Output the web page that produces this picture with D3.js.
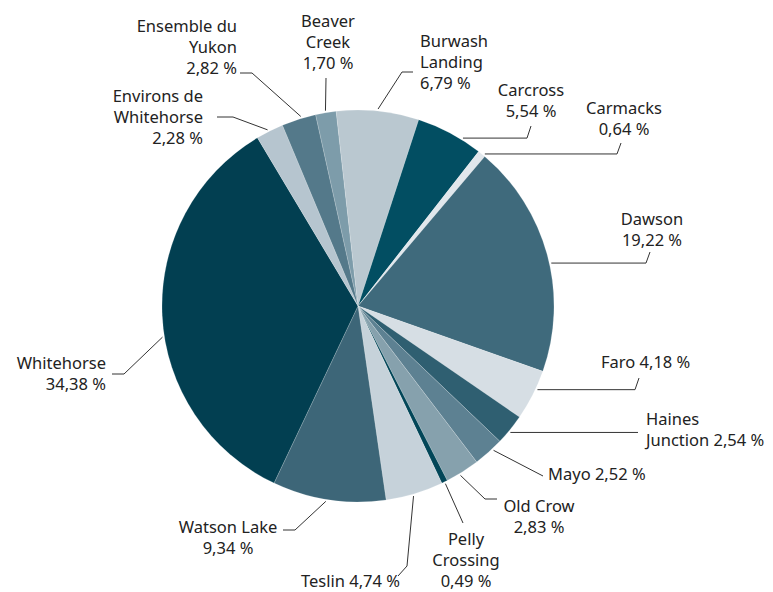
<!DOCTYPE html>
<html>
<head>
<meta charset="utf-8">
<script src="https://cdn.jsdelivr.net/npm/d3@7"></script>
<style>
  body { margin: 0; background: #fff; }
  text { font-family: "Noto Sans", "Open Sans", sans-serif; font-size: 16.5px; fill: #222; }
</style>
</head>
<body>
<svg id="chart" width="773" height="592"></svg>
<script>
// Data
const regions = ["Beaver Creek", "Burwash Landing", "Carcross", "Carmacks", "Dawson", "Faro",
  "Haines Junction", "Mayo", "Old Crow", "Pelly Crossing", "Teslin", "Watson Lake",
  "Whitehorse", "Environs de Whitehorse", "Ensemble du Yukon"]
const shares = [1.70, 6.79, 5.54, 0.64, 19.22, 4.18, 2.54, 2.52, 2.83, 0.49, 4.74, 9.34, 34.38, 2.28, 2.82]
const colors = ["#7d9caa", "#bac8d0", "#024e62", "#e1e7ec", "#3f6a7c", "#d6dee4", "#2f5f71", "#5d8192",
  "#86a1ad", "#024658", "#c6d2da", "#3d6678", "#023f51", "#b6c5cf", "#54798a"]
// how each label breaks into lines ({v} = the value)
const labelLines = [
  ["Beaver", "Creek", "{v}"], ["Burwash", "Landing", "{v}"], ["Carcross", "{v}"], ["Carmacks", "{v}"],
  ["Dawson", "{v}"], ["Faro {v}"], ["Haines", "Junction {v}"], ["Mayo {v}"], ["Old Crow", "{v}"],
  ["Pelly", "Crossing", "{v}"], ["Teslin {v}"], ["Watson Lake", "{v}"], ["Whitehorse", "{v}"],
  ["Environs de", "Whitehorse", "{v}"], ["Ensemble du", "Yukon", "{v}"]]

// Label layout (position of text, connector bends, nudge of the connector angle in degrees)
const labelLayout = [
  {x: 328, y: 27, anchor: "middle", nudge: 0, pts: [[326, 78]]},
  {x: 420, y: 47, anchor: "start", nudge: 0, pts: [[402, 72], [413, 72]]},
  {x: 531, y: 96, anchor: "middle", nudge: 4, hFirst: true, pts: [[527, 0], [531, 126]]},
  {x: 624, y: 114, anchor: "middle", nudge: 0.7, hFirst: true, pts: [[617, 0], [621, 143]]},
  {x: 652, y: 225, anchor: "middle", nudge: 2.6, hFirst: true, pts: [[646, 0], [650, 252]]},
  {x: 601, y: 368, anchor: "start", nudge: -2, hFirst: true, pts: [[635, 0], [639, 378]]},
  {x: 646, y: 425, anchor: "start", nudge: 0.6, hFirst: true, pts: [[638, 0]]},
  {x: 548, y: 480, anchor: "start", nudge: -1.4, pts: [[543, 476]]},
  {x: 539, y: 512, anchor: "middle", nudge: 1, pts: [[485, 499], [497, 499]]},
  {x: 466, y: 545, anchor: "middle", nudge: 0, pts: [[463, 523]]},
  {x: 400, y: 587, anchor: "end", nudge: 0.5, pts: [[407, 566], [398, 576]]},
  {x: 228, y: 533, anchor: "middle", nudge: 0.8, pts: [[295, 530], [283, 530]]},
  {x: 106, y: 369, anchor: "end", nudge: -6.3, pts: [[124, 374], [112, 374]]},
  {x: 203, y: 102, anchor: "end", nudge: -0.4, pts: [[233, 117], [217, 117]]},
  {x: 237, y: 32, anchor: "end", nudge: 0.8, pts: [[252, 73], [240, 73]]}
]

const cx = 358, cy = 306, radius = 196
const lineHeight = 21
const startAngle = -12.52 * Math.PI / 180

const svg = d3.select("#chart")
const fmt = v => d3.format(".2f")(v).replace(".", ",") + " %"

const data = regions.map((name, i) => ({name: name, value: shares[i], color: colors[i], lines: labelLines[i], layout: labelLayout[i]}))

const pie = d3.pie()
  .sort(null)
  .value(d => d.value)
  .startAngle(startAngle)
  .endAngle(startAngle + 2 * Math.PI)

const arc = d3.arc().innerRadius(0).outerRadius(radius)
const arcs = pie(data)

const g = svg.append("g").attr("transform", `translate(${cx},${cy})`)

g.selectAll("path.slice")
  .data(arcs)
  .enter()
    .append("path")
    .attr("class", "slice")
    .attr("d", arc)
    .attr("fill", d => d.data.color)
    .attr("stroke", "#ffffff")
    .attr("stroke-opacity", 0.35)
    .attr("stroke-width", 0.5)

// connectors
const line = d3.line()
svg.selectAll("path.connector")
  .data(arcs)
  .enter()
    .append("path")
    .attr("class", "connector")
    .attr("fill", "none")
    .attr("stroke", "#333")
    .attr("stroke-width", 1)
    .attr("d", d => {
      let lay = d.data.layout
      let a = (d.startAngle + d.endAngle) / 2 + lay.nudge * Math.PI / 180
      let p = [cx + (radius + 2) * Math.sin(a), cy - (radius + 2) * Math.cos(a)]
      let pts = lay.pts.map((q, i) => (lay.hFirst && i === 0) ? [q[0], p[1]] : q)
      return line([p].concat(pts))
    })

// labels
const labels = svg.selectAll("text.label")
  .data(arcs)
  .enter()
    .append("text")
    .attr("class", "label")
    .attr("text-anchor", d => d.data.layout.anchor)

labels.selectAll("tspan")
  .data(d => d.data.lines.map(t => ({t: t.replace("{v}", fmt(d.data.value)), lay: d.data.layout})))
  .enter()
    .append("tspan")
    .attr("x", d => d.lay.x)
    .attr("y", (d, i) => d.lay.y + i * lineHeight)
    .text(d => d.t)
</script>
</body>
</html>
